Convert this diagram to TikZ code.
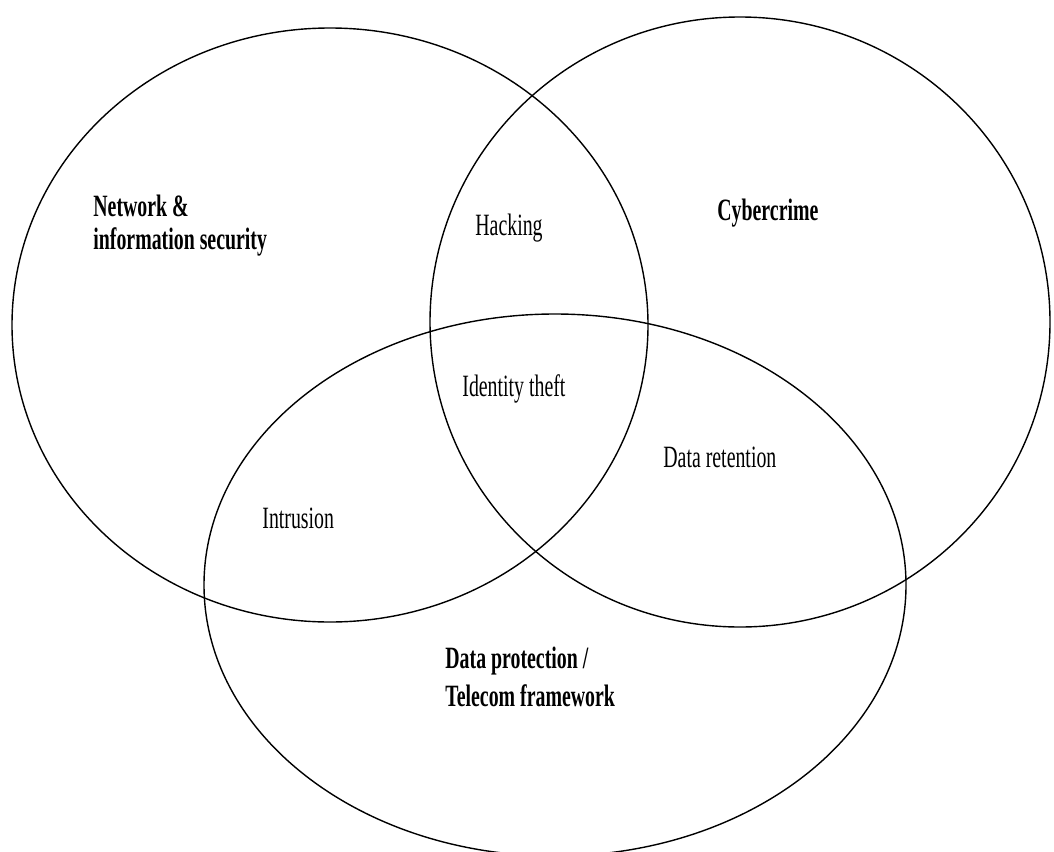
\documentclass[tikz,border=0pt]{standalone}
\usepackage{fontspec}
\setmainfont{Liberation Serif}[FakeStretch=0.64]
\usetikzlibrary{shapes.geometric}
\begin{document}
\begin{tikzpicture}[x=0.5pt,y=-0.5pt,
  venn/.style={draw=black,line width=0.7pt,ellipse,inner sep=0pt},
  lbl/.style={inner sep=0pt,align=left,text=black},
  reg/.style={lbl,font={\fontsize{15.5}{17}\selectfont}},
  bld/.style={lbl,font={\fontsize{15.5}{17}\selectfont\bfseries}}]
\useasboundingbox[fill=white] (0,0) rectangle (1054,851);
\node[venn,minimum width=318pt,minimum height=297pt] (sec) at (330,325) {};
\node[venn,minimum width=310pt,minimum height=305pt] (crime) at (740,322) {};
\node[venn,minimum width=351pt,minimum height=271pt] (prot) at (555,585) {};
\node[bld,anchor=north west,font={\fontsize{15.5}{16.5}\selectfont\bfseries}] (tsec) at (93,195) {Network \&\\information security};
\node[reg,anchor=base west] (thack) at (475,235) {Hacking};
\node[bld,anchor=base west] (tcrime) at (717,220) {Cybercrime};
\node[reg,anchor=base west] (tid) at (462,396) {Identity theft};
\node[reg,anchor=base west] (tret) at (663,467) {Data retention};
\node[reg,anchor=base west] (tint) at (262,528) {Intrusion};
\node[bld,anchor=north west,font={\fontsize{15.5}{19}\selectfont\bfseries}] (tprot) at (445,647) {Data protection /\\Telecom framework};
\end{tikzpicture}
\end{document}
